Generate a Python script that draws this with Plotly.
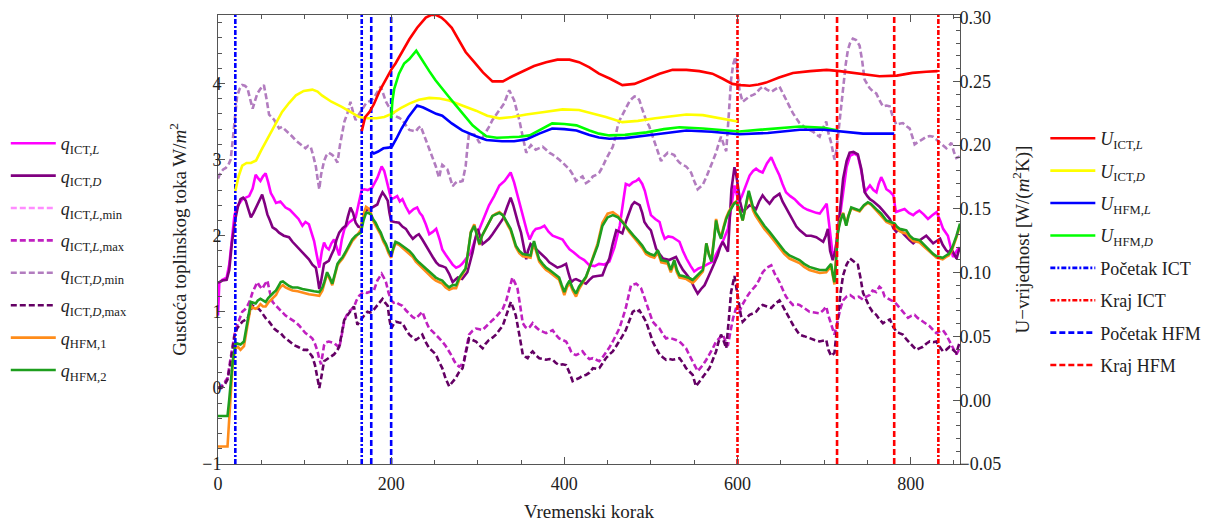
import plotly.graph_objects as go

# ---------------- data ----------------
# left axis: heat-flux density q [W/m^2]
X_Q_ICT_L = [0, 1.5, 5, 10, 13, 16, 19, 22, 28, 32, 36, 40, 43.5, 46, 49, 52, 55, 58, 61, 64, 67, 72, 78, 83, 88, 93, 97.5, 101, 105, 108, 111, 114, 117, 120, 122.5, 125, 128, 131, 134, 137, 140, 143, 146, 151, 155, 159, 163, 166, 169, 173, 178, 181, 184, 189, 192, 194, 197, 200, 204, 207, 210, 213, 217, 221, 226, 230, 233, 236, 240, 244, 248, 252, 256, 259, 263, 267, 271, 275, 279, 282, 287, 292, 297, 302, 307, 313, 319, 325, 331, 338, 342, 346, 350, 354, 357, 360, 364, 367, 372, 377, 382, 386.5, 392, 398, 402, 406, 411, 417, 423, 429, 435, 440, 446, 452, 458, 464, 468, 471, 475, 479, 483, 486, 490, 493, 497, 500, 505, 510, 513, 516, 520, 525, 529, 533, 537, 541, 546, 550, 555, 560, 566, 571.5, 575, 579, 584, 589, 593, 596.5, 599, 601.5, 605, 608, 611, 614, 618, 621.5, 625, 629, 634, 639, 644, 648.5, 652, 656, 661, 666, 671, 676, 681, 687, 691, 695, 699, 703, 706.5, 710, 713, 716, 719, 722, 726, 730, 735, 739, 743, 747, 750, 753, 757, 760.5, 763, 766, 769, 772, 776, 780, 783, 788, 793, 798, 803, 806, 810, 815, 820, 825, 830, 834, 837.5, 843, 846, 849, 852, 855, 857]
Q_ICT_L = [0.95, 1.38, 1.42, 1.45, 1.62, 1.98, 2.27, 2.38, 2.48, 2.5, 2.52, 2.62, 2.8, 2.76, 2.72, 2.78, 2.82, 2.7, 2.56, 2.5, 2.43, 2.45, 2.37, 2.34, 2.28, 2.22, 2.13, 2.18, 2.15, 2.05, 1.93, 1.75, 1.58, 1.8, 1.91, 1.85, 1.82, 1.9, 1.95, 1.85, 1.74, 1.95, 2.09, 2.17, 2.2, 2.24, 2.45, 2.6, 2.61, 2.6, 2.63, 2.7, 2.76, 2.91, 2.85, 2.76, 2.6, 2.48, 2.5, 2.52, 2.45, 2.48, 2.38, 2.3, 2.35, 2.37, 2.3, 2.26, 2.15, 2.02, 2.05, 2.09, 1.95, 1.82, 1.75, 1.69, 1.62, 1.58, 1.6, 1.63, 1.7, 1.78, 1.95, 2.09, 2.25, 2.4, 2.52, 2.66, 2.72, 2.83, 2.7, 2.52, 2.35, 2.17, 2.05, 1.95, 2.05, 2.09, 2.1, 2.13, 2.05, 2.0, 1.98, 1.95, 1.88, 1.82, 1.78, 1.72, 1.68, 1.61, 1.6, 1.63, 1.62, 1.66, 1.85, 2.13, 2.45, 2.68, 2.66, 2.7, 2.72, 2.75, 2.68, 2.59, 2.4, 2.27, 2.22, 2.18, 2.05, 1.96, 1.99, 1.98, 1.95, 1.92, 1.8, 1.7, 1.6, 1.53, 1.57, 1.59, 1.63, 1.66, 1.75, 1.83, 1.95, 2.09, 2.4, 2.66, 2.55, 2.44, 2.52, 2.61, 2.7, 2.79, 2.85, 2.88, 2.85, 2.83, 2.95, 3.03, 2.9, 2.79, 2.68, 2.57, 2.52, 2.48, 2.42, 2.37, 2.34, 2.31, 2.3, 2.29, 2.35, 2.42, 2.09, 1.74, 1.8, 2.05, 2.35, 2.62, 2.9, 3.05, 3.08, 3.05, 2.85, 2.57, 2.62, 2.66, 2.6, 2.57, 2.68, 2.77, 2.7, 2.61, 2.58, 2.53, 2.31, 2.33, 2.35, 2.3, 2.27, 2.3, 2.33, 2.28, 2.22, 2.27, 2.31, 2.2, 2.09, 2.0, 1.85, 1.72, 1.78, 1.83, 1.8]

X_Q_ICT_D = [0, 5, 10, 13, 16, 20, 23, 26, 29, 32, 35, 38, 41, 45.5, 48, 51, 54, 57, 60, 63, 67, 70.5, 76, 82, 86, 90, 94, 97.5, 101, 105, 109, 113, 115, 117, 119, 122.5, 125, 128, 131, 134, 137, 140, 144, 147.5, 150, 153, 156, 159, 162, 165, 168, 171, 175, 178, 181, 184, 187, 190, 193, 196, 198, 200, 204, 209, 213, 217, 221, 225, 229, 232, 236, 240, 244, 248, 252, 255.5, 259, 263, 267, 271, 274, 277, 282, 285, 288, 291, 294, 297, 300, 303, 305.5, 309, 313, 317, 321, 325, 329, 334, 338, 341, 344, 347, 350, 353, 356, 358, 361, 364, 367, 371, 375, 379, 382.6, 387, 392, 397, 402, 405, 408, 411, 413.5, 419, 425, 429, 433, 438, 444, 448, 452, 456, 460, 464, 467, 471, 475, 478, 481, 484, 487, 490, 492.5, 496, 500, 503, 506, 510, 514, 518, 521, 525, 529, 533, 537, 542, 546, 550, 554, 558, 562, 566, 569.5, 573, 577, 580, 583, 586, 589, 591, 593, 596.5, 598.5, 600.4, 603, 606, 610, 614, 618, 621.5, 625, 629, 633, 637, 642, 648.5, 652, 656, 660, 664, 668, 672, 676, 679.5, 685, 691, 695, 699, 702, 704.4, 707, 710, 713, 716, 719, 722, 726, 729.5, 734, 739, 743, 747, 750, 753, 757, 760.5, 764, 768, 772, 776, 780, 783.4, 786, 789, 792, 795, 799, 803, 806, 810.4, 814, 818, 822, 826, 830, 834, 837, 841, 844, 847, 850, 853, 855, 857]
Q_ICT_D = [1.38, 1.41, 1.42, 1.55, 1.9, 2.22, 2.38, 2.48, 2.5, 2.46, 2.35, 2.24, 2.3, 2.41, 2.45, 2.54, 2.42, 2.28, 2.2, 2.11, 2.08, 2.04, 2.0, 1.98, 1.92, 1.87, 1.82, 1.78, 1.74, 1.69, 1.62, 1.58, 1.45, 1.3, 1.4, 1.63, 1.65, 1.67, 1.75, 1.82, 1.95, 2.04, 2.1, 2.13, 2.25, 2.37, 2.3, 2.17, 2.12, 2.11, 2.25, 2.33, 2.35, 2.37, 2.38, 2.41, 2.5, 2.57, 2.52, 2.46, 2.3, 2.19, 2.18, 2.17, 2.12, 2.09, 2.02, 1.96, 2.0, 2.02, 1.95, 1.87, 1.8, 1.72, 1.65, 1.61, 1.6, 1.58, 1.5, 1.39, 1.42, 1.45, 1.43, 1.47, 1.52, 1.65, 1.78, 1.95, 2.09, 1.98, 1.89, 1.92, 1.96, 2.02, 2.09, 2.15, 2.22, 2.38, 2.5, 2.4, 2.26, 2.15, 2.04, 1.85, 1.69, 1.8, 1.89, 1.86, 1.83, 1.78, 1.74, 1.7, 1.65, 1.62, 1.58, 1.6, 1.63, 1.5, 1.39, 1.42, 1.43, 1.4, 1.37, 1.42, 1.46, 1.47, 1.48, 1.6, 1.7, 1.9, 2.07, 2.05, 2.03, 2.18, 2.31, 2.4, 2.44, 2.42, 2.4, 2.3, 2.18, 2.12, 2.07, 1.95, 1.83, 1.76, 1.7, 1.69, 1.68, 1.7, 1.72, 1.63, 1.55, 1.48, 1.42, 1.32, 1.24, 1.3, 1.35, 1.45, 1.53, 1.63, 1.74, 1.85, 1.92, 1.85, 1.79, 2.2, 2.61, 2.9, 2.8, 2.66, 2.45, 2.31, 2.36, 2.4, 2.38, 2.35, 2.45, 2.53, 2.47, 2.42, 2.5, 2.55, 2.45, 2.37, 2.28, 2.2, 2.12, 2.07, 2.03, 2.0, 2.0, 1.98, 1.95, 1.92, 2.0, 2.09, 1.8, 1.68, 1.8, 2.05, 2.4, 2.75, 2.98, 3.09, 3.1, 3.07, 2.88, 2.57, 2.52, 2.48, 2.45, 2.42, 2.38, 2.33, 2.28, 2.22, 2.1, 2.05, 2.08, 2.07, 2.02, 1.98, 1.94, 1.9, 1.93, 1.94, 1.97, 2.0, 1.95, 1.9, 1.93, 1.96, 1.88, 1.81, 1.78, 1.83, 1.76, 1.7, 1.78, 1.85]

X_Q_ICT_L_MAX = [0, 4, 8, 11, 14, 16.6, 19, 22, 25, 28, 31, 34, 37, 40, 43, 45.5, 48, 51, 54, 57, 60, 63, 67, 70.5, 74, 78, 82, 86, 90, 93.6, 97, 101, 105, 109, 112, 115, 117, 119, 122.5, 125, 128, 131, 134, 137, 140, 143, 145.7, 148, 151, 154, 157, 160, 163, 166, 169, 172, 175, 178, 180, 184, 186.5, 189, 191.5, 194, 197, 200, 203, 205.4, 209, 213, 217, 221, 225, 228.5, 232, 236, 240, 244, 248, 251.6, 255, 259, 263, 267, 270, 273, 276, 278.6, 281, 284, 287, 290, 294, 298, 302, 305.6, 309, 313, 317, 321, 325, 329, 333, 336.4, 340, 343, 346, 349, 352, 355, 357.6, 360, 363.4, 367, 371, 375, 379, 383, 386.5, 390, 394, 398, 402, 405, 407.7, 410, 413.5, 417, 421, 425, 429, 433, 437, 440.4, 444, 448, 452, 456, 460, 463.5, 467, 471, 474, 477, 480, 483, 486, 488.6, 491.5, 494.4, 498, 502, 506, 510, 514, 517.5, 521, 525, 529, 533, 537, 540.6, 544, 548.3, 551, 554, 557, 560, 564, 567.6, 571.5, 575.3, 579, 583, 586, 588.8, 592, 595, 598.4, 602.3, 605, 608, 611, 614, 618, 621.5, 625, 629.2, 634, 639, 643, 648.5, 652, 656, 660, 664, 668, 671.6, 677, 683.2, 689, 694.8, 699, 702.5, 705, 708.2, 710, 712, 714, 716, 719, 722, 726, 730, 735, 740, 745, 749, 752.6, 756, 760.3, 764, 767, 770, 774, 777.6, 781.5, 785, 789.2, 793, 797, 801, 804.6, 808, 814.2, 818, 822, 826, 829.6, 833, 837.3, 841, 845, 849, 852.8, 856.6]
Q_ICT_L_MAX = [0.0, 0.02, 0.08, 0.13, 0.35, 0.52, 0.7, 0.82, 0.9, 1.0, 1.03, 1.08, 1.15, 1.26, 1.33, 1.39, 1.34, 1.3, 1.36, 1.41, 1.25, 1.13, 1.08, 1.04, 1.0, 0.95, 0.92, 0.89, 0.86, 0.82, 0.77, 0.72, 0.69, 0.65, 0.58, 0.48, 0.38, 0.31, 0.56, 0.6, 0.61, 0.6, 0.59, 0.56, 0.52, 0.7, 0.87, 0.94, 1.0, 1.03, 1.06, 1.15, 1.21, 1.24, 1.26, 1.25, 1.26, 1.27, 1.28, 1.41, 1.45, 1.5, 1.45, 1.39, 1.25, 1.15, 1.12, 1.13, 1.1, 1.08, 1.02, 0.97, 0.93, 0.91, 0.95, 1.0, 0.88, 0.78, 0.74, 0.7, 0.66, 0.61, 0.55, 0.48, 0.42, 0.35, 0.3, 0.28, 0.3, 0.35, 0.52, 0.7, 0.75, 0.78, 0.77, 0.76, 0.8, 0.85, 0.89, 0.93, 0.98, 1.04, 1.15, 1.3, 1.45, 1.38, 1.3, 1.08, 0.85, 0.8, 0.78, 0.8, 0.85, 0.8, 0.76, 0.74, 0.72, 0.74, 0.76, 0.7, 0.65, 0.63, 0.61, 0.55, 0.48, 0.45, 0.43, 0.45, 0.48, 0.42, 0.38, 0.39, 0.37, 0.35, 0.4, 0.46, 0.53, 0.61, 0.7, 0.78, 0.9, 1.05, 1.2, 1.35, 1.36, 1.37, 1.34, 1.31, 1.22, 1.13, 1.0, 0.87, 0.82, 0.78, 0.7, 0.65, 0.66, 0.65, 0.63, 0.61, 0.56, 0.52, 0.44, 0.35, 0.28, 0.22, 0.26, 0.3, 0.37, 0.44, 0.52, 0.61, 0.66, 0.7, 0.62, 0.55, 0.75, 0.92, 1.05, 1.0, 1.08, 1.15, 1.2, 1.25, 1.3, 1.35, 1.42, 1.52, 1.58, 1.61, 1.5, 1.39, 1.3, 1.2, 1.14, 1.09, 1.1, 1.09, 1.05, 1.0, 0.99, 0.98, 1.02, 1.07, 0.95, 0.83, 0.75, 0.7, 0.8, 0.92, 1.05, 1.15, 1.2, 1.22, 1.18, 1.2, 1.16, 1.2, 1.22, 1.28, 1.26, 1.33, 1.3, 1.2, 1.17, 1.15, 1.13, 1.08, 1.02, 0.97, 0.92, 0.95, 0.96, 0.92, 0.87, 0.85, 0.81, 0.76, 0.72, 0.74, 0.76, 0.7, 0.61, 0.52, 0.44, 0.52]

X_Q_ICT_D_MAX = [0, 4, 8, 11, 14, 16.6, 19, 22, 25, 28, 31, 34, 37, 40, 43, 47, 50, 53, 56, 59, 62, 64.7, 68, 72.4, 76, 80, 84, 88, 92, 95.6, 99, 103, 106, 109, 112, 115, 117, 119, 122.5, 125, 128, 131, 134, 137, 140, 143, 145.7, 148, 151, 154, 157, 159, 161, 164, 167, 170, 172.6, 175, 178, 181, 184, 187, 190, 193, 196, 198, 200, 203, 205.4, 209, 213, 217, 221, 225, 228.5, 232, 236, 240, 244, 248, 251.6, 255, 259, 263, 267, 271, 274.7, 278, 282.5, 286, 290, 294, 298, 302, 305.6, 309, 313, 317, 321, 325, 329, 332, 334.5, 338.3, 341, 344, 348, 352, 355, 357.6, 360, 363.4, 367, 371, 375, 379, 383, 386.5, 390, 394, 398, 402, 406, 409.6, 413, 417.3, 421, 425, 429, 433, 437, 440.4, 444, 448, 452, 456, 460, 463.5, 467, 471, 475, 479, 482, 484, 486.7, 490, 494.4, 498, 502, 506, 510, 514, 517.5, 521, 525, 529, 533, 537, 540.6, 544, 548.3, 552, 556, 560, 564, 567.6, 571.5, 575.3, 578, 581, 584, 587, 590, 592.6, 596.5, 599, 601.5, 604, 606, 610, 614, 618, 621.5, 625, 629.2, 634, 639, 643, 648.5, 652, 656, 660, 664, 668, 671.6, 677, 683.2, 689, 694.8, 699, 702.5, 705, 708.2, 712, 714, 716, 719, 722, 726, 730, 735, 739, 742, 745, 749, 752.6, 756, 760.3, 764, 768, 772, 776, 780, 783.4, 787, 791, 795, 798.8, 802, 806.5, 810, 814.2, 818, 822, 826, 829.6, 833, 837.3, 841, 845, 849, 852.8, 856.6]
Q_ICT_D_MAX = [0.0, 0.0, 0.05, 0.11, 0.3, 0.52, 0.68, 0.78, 0.83, 0.87, 0.89, 0.91, 1.0, 1.08, 1.06, 1.04, 1.0, 0.95, 0.9, 0.87, 0.82, 0.78, 0.75, 0.72, 0.67, 0.63, 0.6, 0.56, 0.54, 0.52, 0.5, 0.5, 0.46, 0.41, 0.3, 0.13, 0.0, 0.12, 0.35, 0.37, 0.39, 0.42, 0.44, 0.48, 0.54, 0.72, 0.89, 0.93, 0.98, 1.02, 1.07, 0.95, 0.83, 0.88, 0.93, 0.97, 1.0, 0.99, 1.0, 1.04, 1.08, 1.12, 1.17, 1.12, 1.08, 0.9, 0.78, 0.84, 0.87, 0.86, 0.85, 0.77, 0.7, 0.66, 0.63, 0.66, 0.7, 0.6, 0.52, 0.48, 0.44, 0.35, 0.26, 0.12, 0.02, 0.08, 0.13, 0.2, 0.26, 0.45, 0.65, 0.63, 0.61, 0.56, 0.52, 0.58, 0.63, 0.66, 0.7, 0.76, 0.82, 0.92, 1.0, 1.13, 1.05, 0.95, 0.7, 0.44, 0.41, 0.39, 0.44, 0.48, 0.43, 0.39, 0.38, 0.37, 0.38, 0.37, 0.33, 0.3, 0.31, 0.3, 0.2, 0.09, 0.11, 0.13, 0.16, 0.17, 0.2, 0.26, 0.25, 0.26, 0.32, 0.39, 0.44, 0.48, 0.55, 0.61, 0.68, 0.76, 0.88, 1.0, 1.02, 1.0, 1.02, 0.96, 0.87, 0.75, 0.61, 0.52, 0.44, 0.4, 0.37, 0.38, 0.37, 0.38, 0.39, 0.33, 0.26, 0.22, 0.17, 0.02, 0.08, 0.13, 0.2, 0.26, 0.37, 0.48, 0.6, 0.7, 0.62, 0.52, 0.9, 1.26, 1.47, 1.3, 1.09, 0.95, 0.87, 0.92, 0.96, 0.98, 1.0, 1.05, 1.09, 1.07, 1.05, 1.1, 1.15, 1.08, 1.0, 0.9, 0.83, 0.76, 0.7, 0.68, 0.65, 0.63, 0.61, 0.62, 0.63, 0.5, 0.42, 0.46, 0.7, 0.96, 1.25, 1.48, 1.62, 1.7, 1.66, 1.62, 1.45, 1.25, 1.15, 1.06, 1.0, 0.96, 0.9, 0.85, 0.88, 0.9, 0.8, 0.74, 0.72, 0.7, 0.64, 0.59, 0.55, 0.5, 0.52, 0.54, 0.58, 0.61, 0.6, 0.61, 0.55, 0.48, 0.5, 0.54, 0.5, 0.46, 0.6]

X_Q_ICT_D_MIN = [0, 3, 6, 9, 12, 14.6, 17, 18.5, 20, 22, 25, 28, 31, 34, 37, 40, 43, 45.5, 49, 53, 56, 59, 62, 65, 68, 70.5, 74, 78, 82, 86, 90, 93.6, 97, 101, 104, 107, 110, 113, 115, 117, 119, 122.5, 125, 128, 131, 134, 136, 138, 141, 143.7, 146, 149.5, 153, 156, 159, 162, 165, 168, 171, 174, 176.5, 179, 182, 185, 188, 191, 194, 197, 200, 203, 205.4, 209, 213, 217, 221, 225, 228.5, 231, 234, 237, 240, 243, 246, 249, 251.6, 253.5, 255.5, 257, 259, 262, 265, 268, 271, 274, 277, 280, 282.5, 284, 286, 288, 290, 293, 296, 299, 302, 305, 309, 313, 317, 321, 325, 328, 330.6, 333.5, 336.4, 339, 342, 345, 348, 352, 356, 359, 361.5, 364, 367, 371, 375, 379, 382.6, 386, 390, 394, 398, 402, 406, 410, 413.5, 417, 421, 425, 429, 433, 437, 440.4, 444, 448, 452, 456, 459, 461.6, 464, 467.4, 471, 475, 478, 481, 484, 486.7, 489.5, 492.4, 495, 498, 502, 506, 509, 511.7, 515, 519.4, 523, 527, 530, 533, 537, 540.6, 543, 546.4, 550, 554, 557, 560, 564, 567.6, 571, 575.3, 578, 581, 584, 587, 590, 592.6, 595, 597.6, 600, 602.3, 606, 610, 614, 618, 621.5, 625, 629.2, 634, 639, 643, 648.5, 652, 656, 660, 664, 668, 671.6, 675, 679.3, 683, 687, 691, 694.8, 698, 702.5, 705, 708.2, 712, 714, 716, 719, 722, 725, 727.5, 730, 733.3, 737, 741, 744, 746.8, 750, 752.6, 756, 760.3, 764, 768, 772, 775.7, 779, 783.4, 787, 791, 795, 798.8, 802, 804.6, 807, 810.4, 814, 818, 822, 826, 830, 833.5, 837, 841.2, 844, 847, 850, 852.8, 856.6]
Q_ICT_D_MIN = [2.75, 2.83, 2.87, 2.89, 2.93, 3.0, 3.25, 3.44, 3.65, 3.83, 3.93, 3.98, 3.97, 3.94, 3.8, 3.67, 3.78, 3.87, 3.93, 3.98, 3.8, 3.59, 3.56, 3.52, 3.46, 3.41, 3.43, 3.39, 3.34, 3.3, 3.25, 3.22, 3.18, 3.15, 3.18, 3.17, 3.05, 2.91, 2.75, 2.61, 2.8, 2.98, 3.05, 3.09, 3.07, 3.04, 3.0, 2.96, 3.2, 3.39, 3.5, 3.61, 3.76, 3.62, 3.52, 3.58, 3.63, 3.69, 3.74, 3.76, 3.78, 3.8, 3.85, 3.9, 3.96, 3.86, 3.76, 3.7, 3.65, 3.6, 3.57, 3.55, 3.52, 3.45, 3.39, 3.38, 3.37, 3.41, 3.44, 3.35, 3.26, 3.18, 3.09, 3.0, 2.91, 2.83, 2.76, 2.85, 2.93, 2.9, 2.87, 2.76, 2.65, 2.69, 2.72, 2.71, 2.72, 2.8, 2.91, 3.15, 3.35, 3.33, 3.33, 3.28, 3.22, 3.28, 3.35, 3.43, 3.52, 3.58, 3.65, 3.7, 3.74, 3.83, 3.91, 3.85, 3.78, 3.65, 3.52, 3.3, 3.09, 3.15, 3.19, 3.16, 3.13, 3.15, 3.17, 3.13, 3.09, 3.07, 3.04, 3.0, 2.96, 2.92, 2.87, 2.8, 2.72, 2.75, 2.78, 2.69, 2.72, 2.78, 2.8, 2.83, 2.9, 3.0, 3.08, 3.17, 3.3, 3.44, 3.52, 3.59, 3.67, 3.76, 3.8, 3.83, 3.82, 3.78, 3.68, 3.57, 3.5, 3.44, 3.3, 3.17, 3.07, 2.98, 3.04, 3.09, 3.08, 3.06, 3.0, 2.96, 2.93, 2.91, 2.88, 2.83, 2.72, 2.61, 2.64, 2.67, 2.77, 2.87, 2.97, 3.09, 3.2, 3.3, 3.2, 3.11, 3.6, 4.05, 4.25, 4.35, 4.15, 3.91, 3.76, 3.8, 3.83, 3.85, 3.87, 3.92, 3.96, 3.92, 3.89, 3.92, 3.96, 3.88, 3.78, 3.7, 3.61, 3.55, 3.48, 3.45, 3.41, 3.39, 3.37, 3.33, 3.3, 3.4, 3.5, 3.35, 3.22, 3.0, 3.1, 3.3, 3.65, 4.0, 4.25, 4.44, 4.53, 4.59, 4.57, 4.5, 4.3, 4.05, 3.99, 3.94, 3.9, 3.87, 3.78, 3.7, 3.71, 3.7, 3.58, 3.46, 3.47, 3.48, 3.44, 3.41, 3.3, 3.2, 3.22, 3.24, 3.27, 3.3, 3.31, 3.3, 3.26, 3.22, 3.18, 3.15, 3.18, 3.22, 3.1, 3.02, 3.04]

X_Q_HFM = [0, 11, 13, 15, 17, 20.4, 23, 26, 30, 34, 38, 41, 43.5, 46, 49, 52, 55, 58, 61, 64, 67, 70, 72.5, 75, 78, 82, 86, 92, 97.5, 101, 105, 111, 117, 120.6, 123, 126, 129, 132, 135, 138, 141, 144, 148, 151, 155, 159, 162, 165, 168, 171, 173.5, 176.5, 179, 182, 185, 188, 191, 194, 197, 200, 202, 205, 209, 213, 217, 221, 225, 228.5, 232, 236, 240, 244, 248, 251.6, 255, 259, 263, 267, 271, 275, 278.6, 282, 286, 289, 292, 296, 299, 302, 305, 309, 313, 317, 321, 325, 329, 332.6, 335, 338, 341, 344, 348, 352, 357, 361, 363, 365, 368, 371, 375, 379, 383, 386.5, 390, 394, 397, 400, 403, 406, 410, 413.5, 417, 421, 425, 429, 433, 438.5, 444, 450, 456, 462, 467, 471, 475, 480, 485, 490, 494.4, 499, 504, 508, 512, 516, 519.4, 523, 527, 530, 533, 537, 541, 545, 548.3, 551, 554, 557, 560, 562, 564, 567, 570, 573, 575.3, 578, 581, 584, 587, 590, 593, 596, 598.4, 602.3, 606, 608, 610, 613, 615.5, 618, 621, 625.4, 631, 637, 643, 648.5, 654, 660, 666, 671.6, 677, 683, 689, 695, 702.5, 705, 708.2, 710, 712, 714, 716, 719, 722, 725.6, 728, 731.4, 736, 741, 746, 750.6, 754, 758, 762, 766, 769, 772, 777, 781.5, 784, 787.2, 791, 795, 799, 803, 807, 810.4, 814, 818, 822, 826, 830, 833.5, 837, 841, 844, 847, 850, 853, 855, 857]
Q_HFM_2 = [-0.37, -0.37, -0.15, 0.1, 0.35, 0.59, 0.58, 0.57, 0.61, 0.87, 1.13, 1.12, 1.11, 1.15, 1.17, 1.15, 1.13, 1.18, 1.22, 1.25, 1.28, 1.35, 1.39, 1.4, 1.37, 1.34, 1.32, 1.32, 1.3, 1.29, 1.28, 1.27, 1.26, 1.32, 1.4, 1.52, 1.45, 1.37, 1.5, 1.63, 1.68, 1.72, 1.8, 1.87, 1.95, 2.0, 2.02, 2.04, 2.2, 2.3, 2.3, 2.28, 2.22, 2.17, 2.1, 2.04, 1.95, 1.89, 1.8, 1.74, 1.82, 1.92, 1.9, 1.87, 1.83, 1.8, 1.75, 1.69, 1.65, 1.61, 1.57, 1.52, 1.48, 1.45, 1.43, 1.41, 1.36, 1.32, 1.35, 1.35, 1.45, 1.5, 1.57, 1.8, 2.04, 2.13, 2.0, 1.89, 2.0, 2.09, 2.18, 2.26, 2.28, 2.3, 2.27, 2.19, 2.15, 2.09, 1.98, 1.87, 1.8, 1.76, 1.75, 1.74, 1.85, 1.93, 1.8, 1.69, 1.63, 1.58, 1.55, 1.52, 1.48, 1.45, 1.35, 1.26, 1.35, 1.41, 1.3, 1.24, 1.33, 1.39, 1.46, 1.58, 1.7, 1.87, 2.13, 2.24, 2.27, 2.24, 2.18, 2.12, 2.07, 2.0, 1.94, 1.87, 1.79, 1.76, 1.74, 1.81, 1.68, 1.67, 1.66, 1.55, 1.68, 1.55, 1.48, 1.47, 1.46, 1.44, 1.42, 1.45, 1.48, 1.52, 1.55, 1.7, 1.9, 1.75, 1.66, 1.95, 2.2, 2.05, 1.96, 2.1, 2.22, 2.3, 2.37, 2.42, 2.44, 2.35, 2.2, 2.3, 2.42, 2.59, 2.48, 2.37, 2.3, 2.22, 2.13, 2.05, 1.96, 1.87, 1.8, 1.74, 1.71, 1.68, 1.63, 1.59, 1.57, 1.55, 1.55, 1.58, 1.63, 1.5, 1.39, 1.7, 2.05, 2.2, 2.29, 2.13, 2.25, 2.37, 2.35, 2.33, 2.4, 2.44, 2.42, 2.37, 2.33, 2.29, 2.24, 2.2, 2.18, 2.16, 2.12, 2.09, 2.08, 2.07, 2.0, 1.96, 1.95, 1.94, 1.9, 1.85, 1.8, 1.76, 1.73, 1.72, 1.71, 1.74, 1.76, 1.81, 1.9, 2.0, 2.08, 2.16]
Q_HFM_1 = [-0.77, -0.77, -0.4, 0.0, 0.33, 0.53, 0.54, 0.5, 0.55, 0.82, 1.08, 1.05, 1.04, 1.06, 1.1, 1.07, 1.07, 1.12, 1.15, 1.18, 1.22, 1.29, 1.33, 1.35, 1.32, 1.3, 1.28, 1.27, 1.25, 1.24, 1.23, 1.22, 1.21, 1.28, 1.37, 1.5, 1.43, 1.35, 1.48, 1.61, 1.66, 1.7, 1.78, 1.85, 1.93, 1.98, 2.03, 2.08, 2.28, 2.38, 2.36, 2.3, 2.2, 2.14, 2.07, 2.01, 1.92, 1.86, 1.77, 1.71, 1.8, 1.9, 1.88, 1.84, 1.8, 1.77, 1.72, 1.66, 1.62, 1.58, 1.53, 1.48, 1.44, 1.41, 1.39, 1.37, 1.32, 1.29, 1.31, 1.31, 1.42, 1.48, 1.56, 1.8, 2.05, 2.15, 2.0, 1.88, 2.0, 2.09, 2.18, 2.26, 2.29, 2.31, 2.27, 2.18, 2.13, 2.07, 1.96, 1.85, 1.77, 1.73, 1.72, 1.71, 1.82, 1.9, 1.77, 1.66, 1.6, 1.55, 1.52, 1.49, 1.45, 1.42, 1.32, 1.22, 1.32, 1.38, 1.27, 1.2, 1.3, 1.37, 1.45, 1.58, 1.72, 1.9, 2.17, 2.29, 2.31, 2.26, 2.19, 2.11, 2.05, 1.98, 1.91, 1.84, 1.76, 1.73, 1.71, 1.78, 1.65, 1.64, 1.63, 1.52, 1.65, 1.52, 1.45, 1.44, 1.43, 1.4, 1.38, 1.41, 1.45, 1.5, 1.53, 1.69, 1.9, 1.76, 1.68, 1.97, 2.22, 2.07, 1.98, 2.12, 2.24, 2.32, 2.38, 2.43, 2.45, 2.34, 2.2, 2.3, 2.42, 2.56, 2.45, 2.33, 2.26, 2.18, 2.09, 2.01, 1.92, 1.83, 1.76, 1.7, 1.67, 1.64, 1.59, 1.55, 1.53, 1.51, 1.52, 1.56, 1.6, 1.48, 1.36, 1.72, 2.08, 2.22, 2.3, 2.14, 2.26, 2.36, 2.34, 2.32, 2.39, 2.43, 2.41, 2.36, 2.32, 2.27, 2.22, 2.18, 2.15, 2.13, 2.09, 2.06, 2.04, 2.03, 1.97, 1.93, 1.92, 1.91, 1.87, 1.83, 1.78, 1.74, 1.71, 1.7, 1.69, 1.72, 1.74, 1.79, 1.88, 1.98, 2.06, 2.14]

# right axis: U-value [W/(m^2 K)]
X_U_ICT_L = [166, 170, 175, 180, 187, 194, 200, 205, 212, 221, 230, 240, 246, 252, 258, 263, 270, 278, 286, 296, 306, 317, 329, 340, 352, 365, 379, 392, 406, 417, 429, 440, 453, 467, 481, 495, 510, 525, 541, 556, 571, 583, 594, 604, 614, 624, 633, 648, 664, 684, 703, 718, 740, 764, 784, 802, 818, 831]
U_ICT_L = [0.211, 0.222, 0.226, 0.232, 0.243, 0.252, 0.259, 0.264, 0.272, 0.283, 0.292, 0.3, 0.302, 0.302, 0.3, 0.297, 0.292, 0.282, 0.273, 0.265, 0.257, 0.25, 0.25, 0.254, 0.258, 0.262, 0.265, 0.267, 0.267, 0.265, 0.261, 0.256, 0.252, 0.247, 0.248, 0.252, 0.256, 0.259, 0.259, 0.258, 0.256, 0.252, 0.248, 0.247, 0.2465, 0.2475, 0.249, 0.253, 0.2566, 0.258, 0.259, 0.258, 0.256, 0.254, 0.2545, 0.2566, 0.2575, 0.258]

X_U_ICT_D = [20, 24, 28, 33, 38, 44, 50, 57, 65, 74, 82, 90, 99, 109, 115, 120, 131, 143, 153, 163, 172, 183, 192, 201, 211, 221, 232, 244, 256, 267, 282, 298, 311, 325, 340, 356, 377, 398, 417, 429, 448, 467, 485, 505, 523, 541, 560, 580, 600]
U_ICT_D = [0.164, 0.176, 0.184, 0.186, 0.186, 0.188, 0.196, 0.205, 0.215, 0.226, 0.233, 0.239, 0.2425, 0.2435, 0.242, 0.239, 0.234, 0.23, 0.226, 0.222, 0.221, 0.221, 0.222, 0.2247, 0.229, 0.2325, 0.2355, 0.237, 0.2365, 0.235, 0.231, 0.227, 0.223, 0.221, 0.222, 0.224, 0.226, 0.228, 0.2275, 0.2255, 0.222, 0.218, 0.219, 0.221, 0.2225, 0.224, 0.2235, 0.221, 0.2185]

X_U_HFM_L = [177, 180, 185, 191, 197, 201, 206, 212, 220, 230, 237, 244, 252, 259, 270, 282, 290, 298, 310, 328, 342, 356, 371, 386, 400, 414, 429, 440, 452, 470, 495, 520, 541, 570, 602, 635, 672, 700, 718, 745, 781]
U_HFM_L = [0.195, 0.1935, 0.195, 0.1975, 0.198, 0.199, 0.205, 0.213, 0.222, 0.231, 0.2295, 0.227, 0.2245, 0.223, 0.217, 0.2115, 0.209, 0.207, 0.204, 0.203, 0.203, 0.2045, 0.209, 0.213, 0.2125, 0.2115, 0.208, 0.206, 0.205, 0.2055, 0.2075, 0.2095, 0.2115, 0.2105, 0.2085, 0.2095, 0.212, 0.212, 0.2107, 0.209, 0.209]

X_U_HFM_D = [200, 201.5, 203.5, 209, 215, 221, 229, 236, 244, 251, 259, 267, 275, 285, 294, 302, 310, 322, 336, 348, 360, 373, 386, 400, 414, 429, 440, 452, 470, 495, 515, 533, 560, 602, 640, 672, 700, 716]
U_HFM_D = [0.221, 0.235, 0.244, 0.256, 0.264, 0.2675, 0.274, 0.266, 0.258, 0.251, 0.244, 0.2375, 0.231, 0.223, 0.2155, 0.211, 0.207, 0.2058, 0.206, 0.2065, 0.2076, 0.212, 0.217, 0.2165, 0.2155, 0.2115, 0.209, 0.2076, 0.208, 0.21, 0.2125, 0.214, 0.213, 0.2107, 0.2125, 0.2146, 0.2135, 0.2115]

# start / end time steps of the measurements
START_ICT = [20, 166]
END_ICT = [600, 832]
START_HFM = [177, 200]
END_HFM = [715, 781]

X_RANGE = [0, 857]
Q_RANGE = [-1.0, 4.9]
U_RANGE = [-0.05, 0.302]

# ---------------- figure ----------------
FONT = "Liberation Serif"
DASH = "6px,3px"
DASHDOT = "5px,2px,2px,2px"

fig = go.Figure()


def add(x, y, name, color, dash, axis, legend, rank, width=2.6):
    fig.add_trace(go.Scatter(
        x=x, y=y, mode="lines", name=name, yaxis=axis, legend=legend,
        legendrank=rank, legendgroup=name,
        line=dict(color=color, width=width, dash=dash),
        hoverinfo="skip"))


def vlines(xs, name, color, dash, rank):
    xx, yy = [], []
    for v in xs:
        xx += [v, v, None]
        yy += [Q_RANGE[0], Q_RANGE[1], None]
    add(xx, yy, name, color, dash, "y", "legend2", rank, width=2.6)


# left-axis curves
add(X_Q_ICT_D_MIN, Q_ICT_D_MIN, "<i>q</i><sub>ICT,<i>D</i>,min</sub>", "#b27cbf", DASH, "y", "legend", 5)
add([None], [None], "<i>q</i><sub>ICT,<i>L</i>,min</sub>", "#ff8cff", DASH, "y", "legend", 3)
add(X_Q_ICT_L_MAX, Q_ICT_L_MAX, "<i>q</i><sub>ICT,<i>L</i>,max</sub>", "#c020c0", DASH, "y", "legend", 4)
add(X_Q_ICT_D_MAX, Q_ICT_D_MAX, "<i>q</i><sub>ICT,<i>D</i>,max</sub>", "#640064", DASH, "y", "legend", 6)
add(X_Q_ICT_L, Q_ICT_L, "<i>q</i><sub>ICT,<i>L</i></sub>", "#ff00ff", None, "y", "legend", 1)
add(X_Q_ICT_D, Q_ICT_D, "<i>q</i><sub>ICT,<i>D</i></sub>", "#800080", None, "y", "legend", 2)
add(X_Q_HFM, Q_HFM_1, "<i>q</i><sub>HFM,1</sub>", "#ff8c1a", None, "y", "legend", 7)
add(X_Q_HFM, Q_HFM_2, "<i>q</i><sub>HFM,2</sub>", "#1e9e1e", None, "y", "legend", 8)

# right-axis curves
add(X_U_ICT_D, U_ICT_D, "<i>U</i><sub>ICT,<i>D</i></sub>", "#ffff00", None, "y2", "legend2", 2)
add(X_U_ICT_L, U_ICT_L, "<i>U</i><sub>ICT,<i>L</i></sub>", "#ff0000", None, "y2", "legend2", 1)
add(X_U_HFM_D, U_HFM_D, "<i>U</i><sub>HFM,<i>D</i></sub>", "#00ff00", None, "y2", "legend2", 4)
add(X_U_HFM_L, U_HFM_L, "<i>U</i><sub>HFM,<i>L</i></sub>", "#0000ff", None, "y2", "legend2", 3)

# vertical markers
vlines(START_ICT, "Početak ICT", "#0000ff", DASHDOT, 5)
vlines(END_ICT, "Kraj ICT", "#ff0000", DASHDOT, 6)
vlines(START_HFM, "Početak HFM", "#0000ff", DASH, 7)
vlines(END_HFM, "Kraj HFM", "#ff0000", DASH, 8)

AX = "#555555"
TXT = "#222222"
common = dict(showline=True, linecolor=AX, linewidth=1, showgrid=False, zeroline=False,
              ticks="inside", tickcolor=AX, ticklen=7, tickwidth=1,
              ticklabeloverflow="allow",
              tickfont=dict(family=FONT, size=18, color=TXT), automargin=False)

legend_common = dict(xanchor="left", yanchor="top", bgcolor="rgba(0,0,0,0)",
                     font=dict(family=FONT, size=18, color=TXT),
                     tracegroupgap=6, traceorder="grouped", itemwidth=45)

# the page body adds an 8 px offset, so the figure is 8 px smaller than the window
fig.update_layout(
    width=1210, height=517,
    margin=dict(l=210, r=258, t=7, b=61, autoexpand=False),
    paper_bgcolor="white", plot_bgcolor="white",
    font=dict(family=FONT, size=18, color=TXT),
    showlegend=True,
    xaxis=dict(range=X_RANGE, dtick=200, tick0=0, mirror="ticks", ticklabelstandoff=3,
               minor=dict(ticks="inside", dtick=50, ticklen=4, tickcolor=AX),
               title=dict(text="Vremenski korak", standoff=12,
                          font=dict(family=FONT, size=19, color=TXT)),
               **common),
    yaxis=dict(range=Q_RANGE, dtick=1, tick0=0, ticklabelstandoff=-8,
               minor=dict(ticks="inside", dtick=0.2, ticklen=4, tickcolor=AX),
               title=dict(text="Gustoća toplinskog toka W/<i>m</i><sup>2</sup>", standoff=10,
                          font=dict(family=FONT, size=19, color=TXT)),
               **common),
    yaxis2=dict(range=U_RANGE, overlaying="y", side="right", dtick=0.05, tick0=0,
                tickformat=".2f", ticklabelstandoff=-5,
                minor=dict(ticks="inside", dtick=0.01, ticklen=4, tickcolor=AX),
                title=dict(text="U−vrijednost [W/(<i>m</i><sup>2</sup>K)]", standoff=15,
                           font=dict(family=FONT, size=19, color=TXT)),
                **common),
    legend=dict(x=-0.286, y=0.755, **legend_common),
    legend2=dict(x=1.115, y=0.766, **legend_common),
)

fig.write_html("out.html")
